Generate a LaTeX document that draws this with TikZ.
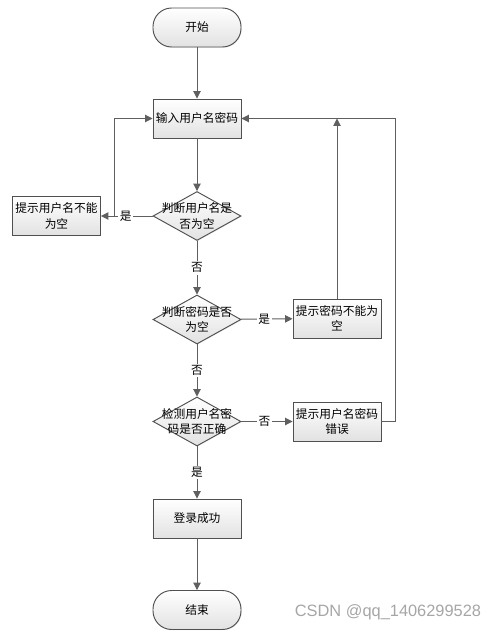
\documentclass[tikz,border=0pt]{standalone}
\usepackage{fontspec}
\usepackage{tikz}
\usetikzlibrary{shapes.geometric, arrows.meta, positioning, calc, shadows}
\newfontfamily\cjk{Noto Sans CJK SC}
\setsansfont{Liberation Sans}
\definecolor{cLine}{RGB}{95,95,95}
\definecolor{cEdge}{RGB}{80,80,80}
\definecolor{cFill}{RGB}{226,226,226}
\tikzset{
	boxfill/.style  ={draw=cEdge, line width=0.8pt, top color=white, bottom color=cFill, drop shadow={opacity=0.2, shadow xshift=0.6pt, shadow yshift=-0.6pt}},
	termbox/.style  ={boxfill, rectangle, rounded corners=0.56cm, minimum width=2.64cm, minimum height=1.17cm, align=center},
	procbox/.style  ={boxfill, rectangle, minimum width=2.64cm, minimum height=1.17cm, text width=2.5cm, align=center, inner sep=1pt},
	decision/.style ={boxfill, diamond, minimum width=2.64cm, minimum height=1.47cm, inner sep=0pt},
	dtext/.style    ={align=center, inner sep=0pt},
	sig/.style      ={-{Triangle[length=2.2mm, width=2.2mm]}, draw=cLine, line width=0.8pt},
	lbl/.style      ={fill=white, inner sep=1.5pt},
}
\begin{document}
\begin{tikzpicture}[x=0.03cm, y=-0.03cm, font=\cjk\fontsize{10}{13}\selectfont]
	\useasboundingbox (0,0) rectangle (499,639);
	% main column
	\node[termbox] (start) at (197,27.5) {开始};
	\node[procbox] (inp) at (197,118.5) {输入用户名密码};
	\node[decision, label={[dtext]center:判断用户名是\\否为空}] (d1) at (197,216) {};
	\node[decision, label={[dtext]center:判断密码是否\\为空}] (d2) at (197,319.5) {};
	\node[decision, label={[dtext]center:检测用户名密\\码是否正确}] (d3) at (197,421.5) {};
	\node[procbox] (ok) at (197,518.5) {登录成功};
	\node[termbox] (stop) at (197,610) {结束};
	% side boxes
	\node[procbox] (nouser) at (56.5,216) {提示用户名不能\\为空};
	\node[procbox] (nopwd) at (337,318.5) {提示密码不能为\\空};
	\node[procbox] (wrong) at (337,421.5) {提示用户名密码\\错误};
	\coordinate (j1) at (114,216);

	\draw[sig] (start) -- (inp);
	\draw[sig] (inp) -- (d1);
	\draw[sig] (d1) -- node[lbl, pos=0.52] {是} (nouser);
	\draw[sig] (j1) |- (inp);
	\draw[sig] (d1) -- node[lbl] {否} (d2);
	\draw[sig] (d2) -- node[lbl, pos=0.45] {是} (nopwd);
	\draw[sig] (nopwd) -- (nopwd |- inp.east);
	\draw[sig] (d2) -- node[lbl] {否} (d3);
	\draw[sig] (d3) -- node[lbl, pos=0.45] {否} (wrong);
	\draw[sig] (wrong.east) -- ++(14,0) |- (inp.east);
	\draw[sig] (d3) -- node[lbl] {是} (ok);
	\draw[sig] (ok) -- (stop);

	\node[font=\sffamily\fontsize{14}{16}\selectfont, text=gray!70] (mark) at (388,612) {CSDN @qq\_1406299528};
\end{tikzpicture}
\end{document}
